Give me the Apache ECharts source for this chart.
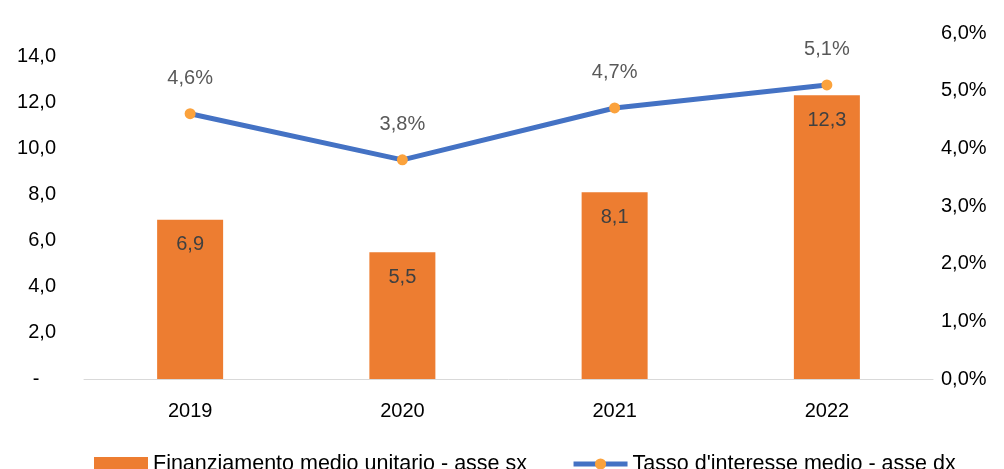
<!DOCTYPE html>
<html>
<head>
<meta charset="utf-8">
<script src="https://cdn.jsdelivr.net/npm/echarts@6/dist/echarts.min.js"></script>
<style>
    html, body { margin: 0; padding: 0; background: #fff; }
    #chart { width: 1004px; height: 469px; }
</style>
</head>
<body>
<div id="chart"></div>
<script>
var years = ['2019', '2020', '2021', '2022'];
var finanziamento = [6.9, 5.5, 8.1, 12.3];
var tasso = [4.6, 3.8, 4.7, 5.1];

function itNum(v, d) {
    return v.toFixed(d).replace('.', ',');
}

var myChart = echarts.init(document.getElementById('chart'));
var font = 'Liberation Sans';
option = {
    animation: false,
    textStyle: { fontFamily: font },
    grid: { left: 84, right: 71, top: 33, bottom: 90 },
    legend: {
        left: 89,
        top: 448,
        itemGap: 44,
        itemWidth: 54,
        itemHeight: 14,
        textStyle: { fontSize: 21.5, color: '#000', fontFamily: font },
        data: [
            { name: 'Finanziamento medio unitario - asse sx', icon: 'rect' },
            { name: "Tasso d'interesse medio - asse dx", lineStyle: { width: 5, color: '#4472C4' } }
        ]
    },
    xAxis: {
        type: 'category',
        data: years,
        axisLine: { lineStyle: { color: '#D9D9D9', width: 1 } },
        axisTick: { show: false },
        axisLabel: { fontSize: 20, color: '#000', margin: 22 }
    },
    yAxis: [
        {
            type: 'value',
            min: 0,
            max: 15,
            interval: 2,
            splitLine: { show: false },
            axisLine: { show: false },
            axisTick: { show: false },
            axisLabel: {
                fontSize: 20,
                color: '#000',
                margin: 28,
                formatter: function (v) {
                    if (v > 14) return '';
                    if (v === 0) return '-   ';
                    return itNum(v, 1);
                }
            }
        },
        {
            type: 'value',
            min: 0,
            max: 6,
            interval: 1,
            splitLine: { show: false },
            axisLine: { show: false },
            axisTick: { show: false },
            axisLabel: {
                fontSize: 20,
                color: '#000',
                margin: 8,
                formatter: function (v) { return itNum(v, 1) + '%'; }
            }
        }
    ],
    series: [
        {
            name: 'Finanziamento medio unitario - asse sx',
            type: 'bar',
            barWidth: 66,
            itemStyle: { color: '#ED7D31' },
            label: {
                show: true,
                position: 'insideTop',
                distance: 15,
                fontSize: 20,
                color: '#404040',
                formatter: function (p) { return itNum(p.value, 1); }
            },
            data: finanziamento
        },
        {
            name: "Tasso d'interesse medio - asse dx",
            type: 'line',
            yAxisIndex: 1,
            symbol: 'circle',
            symbolSize: 11,
            lineStyle: { color: '#4472C4', width: 5 },
            itemStyle: { color: '#FBA23C' },
            label: {
                show: true,
                position: 'top',
                distance: 20,
                fontSize: 20,
                color: '#595959',
                formatter: function (p) { return itNum(p.value, 1) + '%'; }
            },
            data: tasso
        }
    ]
};
myChart.setOption(option);
</script>
</body>
</html>
